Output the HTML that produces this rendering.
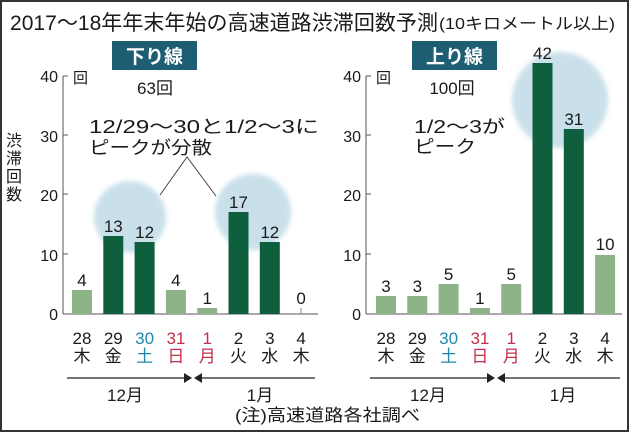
<!DOCTYPE html>
<html><head><meta charset="utf-8"><style>
body{margin:0;background:#fff}
svg{display:block}
text{font-family:"Liberation Sans","Noto Sans CJK JP",sans-serif;fill:#1a1a1a}
</style></head><body>
<svg width="630" height="434" viewBox="0 0 630 434" xmlns="http://www.w3.org/2000/svg">
<defs><filter id="bl"><feGaussianBlur stdDeviation="2.5"/></filter></defs>
<rect x="1" y="1" width="627" height="430" fill="#fff" stroke="#333" stroke-width="2"/>
<text x="10" y="30" font-size="21" textLength="428" lengthAdjust="spacingAndGlyphs">2017～18年年末年始の高速道路渋滞回数予測</text>
<text x="439" y="29" font-size="16" textLength="176" lengthAdjust="spacingAndGlyphs">(10キロメートル以上)</text>

<!-- circles -->
<g filter="url(#bl)">
<circle cx="130" cy="217" r="36" fill="#c9e0ea"/>
<circle cx="253" cy="212" r="38" fill="#c9e0ea"/>
<circle cx="560" cy="100" r="48" fill="#c9e0ea"/>
</g>

<!-- LEFT -->
<rect x="112" y="41" width="85" height="29" fill="#1d5e72"/>
<text x="154.5" y="63" font-size="19" font-weight="bold" text-anchor="middle" style="fill:#fff">下り線</text>
<text x="155" y="94" font-size="17" text-anchor="middle">63回</text>
<text x="73" y="83" font-size="15">回</text>
<line x1="63" y1="76" x2="63" y2="314" stroke="#555" stroke-width="1"/>
<line x1="63" y1="314" x2="318" y2="314" stroke="#555" stroke-width="1"/>
<g stroke="#555"><line x1="63" y1="76" x2="68" y2="76"/><line x1="63" y1="135" x2="68" y2="135"/><line x1="63" y1="194" x2="68" y2="194"/><line x1="63" y1="254" x2="68" y2="254"/></g>
<g font-size="16" text-anchor="end"><text x="58" y="82">40</text><text x="58" y="142">30</text><text x="58" y="201">20</text><text x="58" y="261">10</text><text x="58" y="320">0</text></g>
<g font-size="16"><text x="6" y="146">渋</text><text x="6" y="164">滞</text><text x="6" y="182">回</text><text x="6" y="200">数</text></g>
<text x="89" y="133" font-size="18" textLength="230" lengthAdjust="spacingAndGlyphs">12/29～30と1/2～3に</text>
<text x="89" y="154" font-size="18" textLength="123" lengthAdjust="spacingAndGlyphs">ピークが分散</text>
<polyline points="160,195 187,157 216,196" fill="none" stroke="#444" stroke-width="1"/>
<g>
<rect x="72" y="290" width="20" height="24" fill="#8db487"/>
<rect x="103.3" y="236" width="20" height="78" fill="#0f5f3f"/>
<rect x="134.6" y="242" width="20" height="72" fill="#0f5f3f"/>
<rect x="165.9" y="290" width="20" height="24" fill="#8db487"/>
<rect x="197.2" y="308" width="20" height="6" fill="#8db487"/>
<rect x="228.5" y="212" width="20" height="102" fill="#0f5f3f"/>
<rect x="259.8" y="242" width="20" height="72" fill="#0f5f3f"/>
<line x1="301" y1="308" x2="301" y2="314" stroke="#888"/>
</g>
<g font-size="17" text-anchor="middle">
<text x="82" y="286">4</text><text x="113.3" y="232">13</text><text x="144.6" y="238">12</text><text x="175.9" y="286">4</text><text x="207.2" y="304">1</text><text x="238.5" y="208">17</text><text x="269.8" y="238">12</text><text x="301.1" y="304">0</text>
</g>
<g font-size="17" text-anchor="middle">
<text x="82" y="344">28</text><text x="113.3" y="344">29</text><text x="144.6" y="344" style="fill:#1f88a8">30</text><text x="175.9" y="344" style="fill:#c0304a">31</text><text x="207.2" y="344" style="fill:#c0304a">1</text><text x="238.5" y="344">2</text><text x="269.8" y="344">3</text><text x="301.1" y="344">4</text>
<text x="82" y="362">木</text><text x="113.3" y="362">金</text><text x="144.6" y="362" style="fill:#1f88a8">土</text><text x="175.9" y="362" style="fill:#c0304a">日</text><text x="207.2" y="362" style="fill:#c0304a">月</text><text x="238.5" y="362">火</text><text x="269.8" y="362">水</text><text x="301.1" y="362">木</text>
</g>
<line x1="67" y1="378" x2="186" y2="378" stroke="#222" stroke-width="1.3"/>
<polygon points="184,373 192,378 184,383" fill="#222"/>
<polygon points="202,373 194,378 202,383" fill="#222"/>
<line x1="200" y1="378" x2="315" y2="378" stroke="#222" stroke-width="1.3"/>
<text x="125" y="401" font-size="17" text-anchor="middle">12月</text>
<text x="260" y="401" font-size="17" text-anchor="middle">1月</text>

<!-- RIGHT -->
<rect x="412" y="41" width="85" height="29" fill="#1d5e72"/>
<text x="454.5" y="63" font-size="19" font-weight="bold" text-anchor="middle" style="fill:#fff">上り線</text>
<text x="452" y="94" font-size="17" text-anchor="middle">100回</text>
<text x="376" y="83" font-size="15">回</text>
<line x1="366" y1="76" x2="366" y2="314" stroke="#555"/>
<line x1="366" y1="314" x2="622" y2="314" stroke="#555"/>
<g stroke="#555"><line x1="366" y1="76" x2="371" y2="76"/><line x1="366" y1="135" x2="371" y2="135"/><line x1="366" y1="194" x2="371" y2="194"/><line x1="366" y1="254" x2="371" y2="254"/></g>
<g font-size="16" text-anchor="end"><text x="361" y="82">40</text><text x="361" y="142">30</text><text x="361" y="201">20</text><text x="361" y="261">10</text><text x="361" y="320">0</text></g>
<text x="414" y="133" font-size="18" textLength="91" lengthAdjust="spacingAndGlyphs">1/2～3が</text>
<text x="414" y="153" font-size="18" textLength="62" lengthAdjust="spacingAndGlyphs">ピーク</text>
<g>
<rect x="376" y="296" width="20" height="18" fill="#8db487"/>
<rect x="407.3" y="296" width="20" height="18" fill="#8db487"/>
<rect x="438.6" y="284" width="20" height="30" fill="#8db487"/>
<rect x="469.9" y="308" width="20" height="6" fill="#8db487"/>
<rect x="501.2" y="284" width="20" height="30" fill="#8db487"/>
<rect x="532.5" y="63" width="20" height="251" fill="#0f5f3f"/>
<rect x="563.8" y="129" width="20" height="185" fill="#0f5f3f"/>
<rect x="595.1" y="255" width="20" height="59" fill="#8db487"/>
</g>
<g font-size="17" text-anchor="middle">
<text x="386" y="292">3</text><text x="417.3" y="292">3</text><text x="448.6" y="280">5</text><text x="479.9" y="304">1</text><text x="511.2" y="280">5</text><text x="542.5" y="59">42</text><text x="573.8" y="125">31</text><text x="605.1" y="250">10</text>
</g>
<g font-size="17" text-anchor="middle">
<text x="386" y="344">28</text><text x="417.3" y="344">29</text><text x="448.6" y="344" style="fill:#1f88a8">30</text><text x="479.9" y="344" style="fill:#c0304a">31</text><text x="511.2" y="344" style="fill:#c0304a">1</text><text x="542.5" y="344">2</text><text x="573.8" y="344">3</text><text x="605.1" y="344">4</text>
<text x="386" y="362">木</text><text x="417.3" y="362">金</text><text x="448.6" y="362" style="fill:#1f88a8">土</text><text x="479.9" y="362" style="fill:#c0304a">日</text><text x="511.2" y="362" style="fill:#c0304a">月</text><text x="542.5" y="362">火</text><text x="573.8" y="362">水</text><text x="605.1" y="362">木</text>
</g>
<line x1="370" y1="378" x2="489" y2="378" stroke="#222" stroke-width="1.3"/>
<polygon points="487,373 495,378 487,383" fill="#222"/>
<polygon points="505,373 497,378 505,383" fill="#222"/>
<line x1="503" y1="378" x2="620" y2="378" stroke="#222" stroke-width="1.3"/>
<text x="428" y="401" font-size="17" text-anchor="middle">12月</text>
<text x="563" y="401" font-size="17" text-anchor="middle">1月</text>

<text x="235" y="421" font-size="17" textLength="185" lengthAdjust="spacingAndGlyphs">(注)高速道路各社調べ</text>
</svg>
</body></html>
